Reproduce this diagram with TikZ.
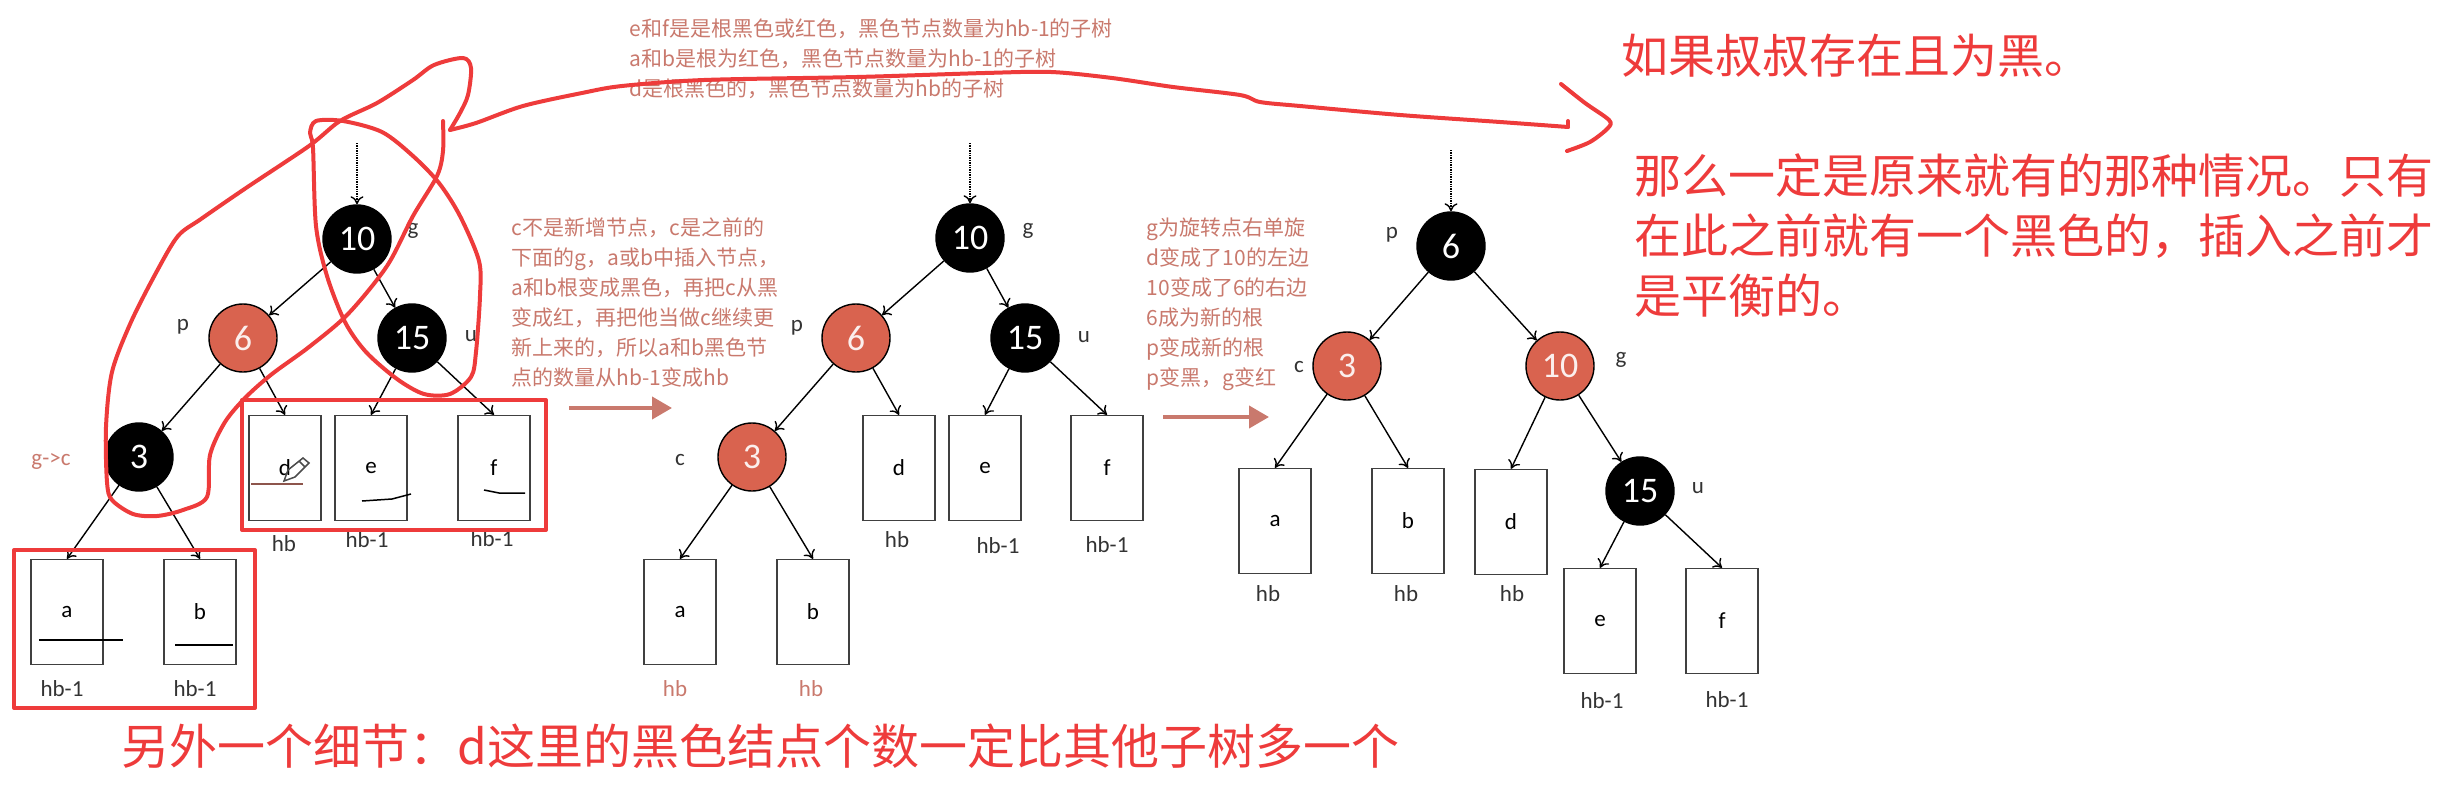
\documentclass[tikz,border=0pt]{standalone}
\usepackage{fontspec}
\setmainfont{Carlito}
\newfontfamily\cjk{Noto Sans CJK SC}
\usetikzlibrary{arrows.meta}
\definecolor{inkred}{HTML}{EE3B3B}
\definecolor{nodered}{HTML}{D9634F}
\definecolor{notered}{HTML}{C9796D}

\begin{document}
\begin{tikzpicture}[x=1pt,y=-1pt,line width=1.4pt,>={To[length=8pt,width=13pt]},
  blk/.style={circle,fill=black,draw=black,text=white,minimum size=68pt,inner sep=0pt,font=\fontsize{36}{36}\selectfont},
  rd/.style={circle,fill=nodered,draw=black,text=white!90!nodered,minimum size=68pt,inner sep=0pt,font=\fontsize{36}{36}\selectfont},
  sub/.style={draw=black!75,minimum width=72pt,minimum height=105pt,inner sep=0pt,font=\fontsize{23}{23}\selectfont},
  lab/.style={inner sep=0pt,text=black!80,font=\fontsize{23}{23}\selectfont},
  note/.style={inner sep=0pt,anchor=west,align=left,text=notered,font=\cjk\fontsize{21}{30}\selectfont},
  talk/.style={inner sep=0pt,anchor=west,align=left,text=inkred,font=\cjk\fontsize{47}{60}\selectfont},
  ink/.style={draw=inkred,line width=4pt,line join=round,line cap=round},
  pen/.style={draw=black,line width=1.5pt},
  move/.style={draw=notered,line width=4pt,-{Triangle[length=20pt,width=22pt]}},
  down/.style={->,densely dotted}]
\useasboundingbox (0,0) rectangle (2456,789);
% tree before
\node[blk] (ten) at (357,239) {10};
\node[rd] (six) at (243,338) {6};
\node[blk] (fif) at (412,338) {15};
\node[blk] (thr) at (139,457) {3};
\node[sub] (d) at (285,468) {d};
\node[sub] (e) at (371,468) {e};
\node[sub] (f) at (494,468) {f};
\node[sub] (a) at (67,612) {a};
\node[sub] (b) at (200,612) {b};
\coordinate (top) at (357,143);
\draw[down] (top) -- (ten);
\draw[->] (ten) -- (six);
\draw[->] (ten) -- (fif);
\draw[->] (six) -- (thr);
\draw[->] (six) -- (d.north);
\draw[->] (fif) -- (e.north);
\draw[->] (fif) -- (f.north);
\draw[->] (thr) -- (a.north);
\draw[->] (thr) -- (b.north);
\node[lab] (gl) at (413,231) {g};
\node[lab] (pl) at (183,327) {p};
\node[lab] (ul) at (471,336) {u};
\node[lab,text=notered] (cl) at (51,461) {g->c};
\node[lab] (hd) at (284,544) {hb};
\node[lab] (he) at (367,540) {hb-1};
\node[lab] (hf) at (492,539) {hb-1};
\node[lab] (ha) at (62,689) {hb-1};
\node[lab] (hb) at (195,689) {hb-1};
% tree in between
\node[blk] (tenb) at (970,238) {10};
\node[rd] (sixb) at (856,338) {6};
\node[blk] (fifb) at (1025,338) {15};
\node[rd] (thrb) at (752,457) {3};
\node[sub] (db) at (899,468) {d};
\node[sub] (eb) at (985,468) {e};
\node[sub] (fb) at (1107,468) {f};
\node[sub] (ab) at (680,612) {a};
\node[sub] (bb) at (813,612) {b};
\coordinate (topb) at (970,143);
\draw[down] (topb) -- (tenb);
\draw[->] (tenb) -- (sixb);
\draw[->] (tenb) -- (fifb);
\draw[->] (sixb) -- (thrb);
\draw[->] (sixb) -- (db.north);
\draw[->] (fifb) -- (eb.north);
\draw[->] (fifb) -- (fb.north);
\draw[->] (thrb) -- (ab.north);
\draw[->] (thrb) -- (bb.north);
\node[lab] (glb) at (1028,231) {g};
\node[lab] (plb) at (797,328) {p};
\node[lab] (ulb) at (1084,337) {u};
\node[lab] (clb) at (680,460) {c};
\node[lab] (hdb) at (897,540) {hb};
\node[lab] (heb) at (998,546) {hb-1};
\node[lab] (hfb) at (1107,545) {hb-1};
\node[lab,text=notered] (hab) at (675,689) {hb};
\node[lab,text=notered] (hbb) at (811,689) {hb};
% tree after
\node[blk] (sixc) at (1451,246) {6};
\node[rd] (thrc) at (1347,366) {3};
\node[rd] (tenc) at (1560,366) {10};
\node[blk] (fifc) at (1640,491) {15};
\node[sub] (ac) at (1275,521) {a};
\node[sub] (bc) at (1408,521) {b};
\node[sub] (dc) at (1511,522) {d};
\node[sub] (ec) at (1600,621) {e};
\node[sub] (fc) at (1722,621) {f};
\coordinate (topc) at (1451,150);
\draw[down] (topc) -- (sixc);
\draw[->] (sixc) -- (thrc);
\draw[->] (sixc) -- (tenc);
\draw[->] (thrc) -- (ac.north);
\draw[->] (thrc) -- (bc.north);
\draw[->] (tenc) -- (dc.north);
\draw[->] (tenc) -- (fifc);
\draw[->] (fifc) -- (ec.north);
\draw[->] (fifc) -- (fc.north);
\node[lab] (plc) at (1392,235) {p};
\node[lab] (clc) at (1299,367) {c};
\node[lab] (glc) at (1621,360) {g};
\node[lab] (ulc) at (1698,488) {u};
\node[lab] (hac) at (1268,594) {hb};
\node[lab] (hbc) at (1406,594) {hb};
\node[lab] (hdc) at (1512,594) {hb};
\node[lab] (hec) at (1602,701) {hb-1};
\node[lab] (hfc) at (1727,700) {hb-1};
% notes and moves
\node[note] (rule) at (629,59) {e和f是是根黑色或红色，黑色节点数量为hb-1的子树\\a和b是根为红色，黑色节点数量为hb-1的子树\\d是根黑色的，黑色节点数量为hb的子树};
\node[note] (why) at (511,303) {c不是新增节点，c是之前的\\下面的g，a或b中插入节点，\\a和b根变成黑色，再把c从黑\\变成红，再把他当做c继续更\\新上来的，所以a和b黑色节\\点的数量从hb-1变成hb};
\node[note] (rot) at (1146,304) {g为旋转点右单旋\\d变成了10的左边\\10变成了6的右边\\6成为新的根\\p变成新的根\\p变黑，g变红};
\coordinate (ma) at (569,408);
\coordinate (mb) at (672,408);
\coordinate (mc) at (1163,417);
\coordinate (md) at (1269,417);
\draw[move] (ma) -- (mb);
\draw[move] (mc) -- (md);
\node[talk] (hd1) at (1621,56) {如果叔叔存在且为黑。};
\node[talk] (hd2) at (1634,235) {那么一定是原来就有的那种情况。只有\\在此之前就有一个黑色的，插入之前才\\是平衡的。};
\node[talk,font=\cjk\fontsize{48}{60}\selectfont] (hd3) at (121,746) {另外一个细节：d这里的黑色结点个数一定比其他子树多一个};
% red marks
\draw[ink] (242,400) rectangle (546,530);
\draw[ink] (14,550) rectangle (255,708);
\draw[ink] plot[smooth] coordinates {(443,121) (443,151) (437,176) (413,216) (387,266) (348,314) (309,347) (272,374) (246,397) (225,422) (210,455) (207,497) (183,510) (157,516) (133,514) (112,500) (107,482) (106,427) (112,372) (131,322) (157,271) (178,236) (201,219) (246,188) (309,146) (340,121) (377,103) (413,80) (434,65) (463,58) (471,68) (468,95) (460,113) (450,130)};
\draw[ink] plot[smooth] coordinates {(450,130) (476,123) (523,106) (582,93) (622,86) (704,80) (857,77) (985,73) (1051,72) (1112,78) (1173,87) (1240,95) (1260,102) (1300,106) (1400,115) (1500,122) (1568,127)};
\draw[ink] (1568,127) -- (1568,121);
\draw[ink] plot[smooth] coordinates {(1561,84) (1585,103) (1609,120) (1608,128) (1590,142) (1567,151)};
\draw[ink] plot[smooth cycle] coordinates {(313,148) (310,133) (316,121) (343,121) (382,132) (413,156) (439,183) (460,216) (479,261) (480,296) (476,352) (471,377) (450,394) (424,394) (397,379) (366,352) (345,322) (327,276) (316,226)};
% pen marks
\draw[pen] (39,640) -- (123,640);
\draw[pen] (175,645) -- (233,645);
\draw[pen] (362,501) -- (392,499) -- (411,494);
\draw[pen] (484,490) -- (499,493) -- (525,493);
\draw[pen,draw=notered!70!black] (251,484) -- (303,484);
\draw[pen,draw=black!70] (284,481) -- (288,470) -- (303,458) -- (309,463) -- (295,477) -- cycle;
\draw[pen,draw=black!70] (299,461) -- (305,467);
\end{tikzpicture}
\end{document}
